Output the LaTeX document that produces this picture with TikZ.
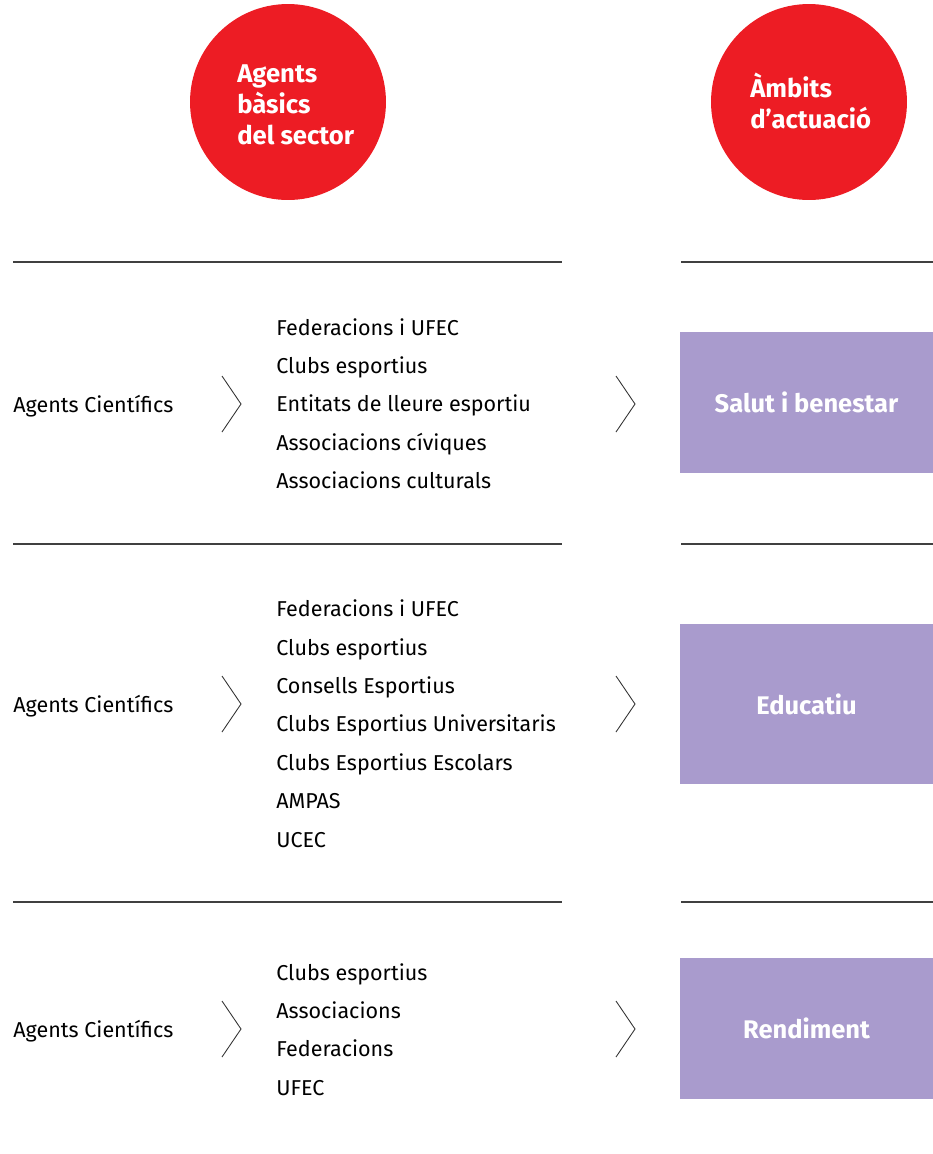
\documentclass[tikz,border=0pt]{standalone}
\usepackage{fontspec}
\setmainfont{Fira Sans}
\usetikzlibrary{positioning}
\definecolor{vermell}{HTML}{ED1C24}
\definecolor{lila}{HTML}{A99BCD}

\begin{document}
\begin{tikzpicture}[
  x=0.02cm, y=-0.02cm,
  head/.style={circle, fill=vermell, minimum size=3.92cm, inner sep=0pt},
  headtxt/.style={text=white, font=\fontsize{14.6}{17.6}\selectfont\bfseries, align=left, anchor=west, inner sep=0pt},
  item/.style={anchor=west, inner sep=0pt, yshift=-0.06cm, text height=1.45ex, text depth=0.35ex, font=\fontsize{12.25}{14}\selectfont},
  area/.style={fill=lila, text=white, font=\fontsize{14.5}{17}\selectfont\bfseries, minimum width=5.06cm, inner sep=0pt},
  rule/.style={draw=black!75, line width=0.6pt},
  chev/.style={draw=black!80, line width=0.5pt}
]
\useasboundingbox (0,0) rectangle (933,1154);

% capcaleres
\node[head] (agents) at (288,102) {};
\node[headtxt] (agentstxt) at (237,104.5) {Agents\\bàsics\\del sector};
\node[head] (ambits) at (809,102) {};
\node[headtxt] (ambitstxt) at (750,101) {Àmbits\\d’actuació};

% separadors
\foreach \y [count=\i] in {262,544,902} {
  \coordinate (la\i) at (13,\y);
  \coordinate (lb\i) at (562,\y);
  \coordinate (ra\i) at (681,\y);
  \coordinate (rb\i) at (933,\y);
  \draw[rule] (la\i) -- (lb\i);
  \draw[rule] (ra\i) -- (rb\i);
}

% files
\foreach \y [count=\i] in {404,704,1029} {
  \node[item] (cient\i) at (13,\y) {Agents Científics};
  \draw[chev] (222,\y-28) -- (241,\y) -- (222,\y+28);
  \draw[chev] (616,\y-28) -- (635,\y) -- (616,\y+28);
}

% fila 1
\foreach \t [count=\k] in {Federacions i UFEC, Clubs esportius, Entitats de lleure esportiu, Associacions cíviques, Associacions culturals}
  \node[item] (a\k) at (276,327+38.4*\k-38.4) {\t};
\node[area, minimum height=2.82cm] (salut) at (806.5,402.5) {Salut i benestar};

% fila 2
\foreach \t [count=\k] in {Federacions i UFEC, Clubs esportius, Consells Esportius, Clubs Esportius Universitaris, Clubs Esportius Escolars, AMPAS, UCEC}
  \node[item] (b\k) at (276,608.5+38.4*\k-38.4) {\t};
\node[area, minimum height=3.2cm] (educ) at (806.5,704) {Educatiu};

% fila 3
\foreach \t [count=\k] in {Clubs esportius, Associacions, Federacions, UFEC}
  \node[item] (c\k) at (276,972+38.4*\k-38.4) {\t};
\node[area, minimum height=2.82cm] (rend) at (806.5,1028.5) {Rendiment};

\end{tikzpicture}
\end{document}
